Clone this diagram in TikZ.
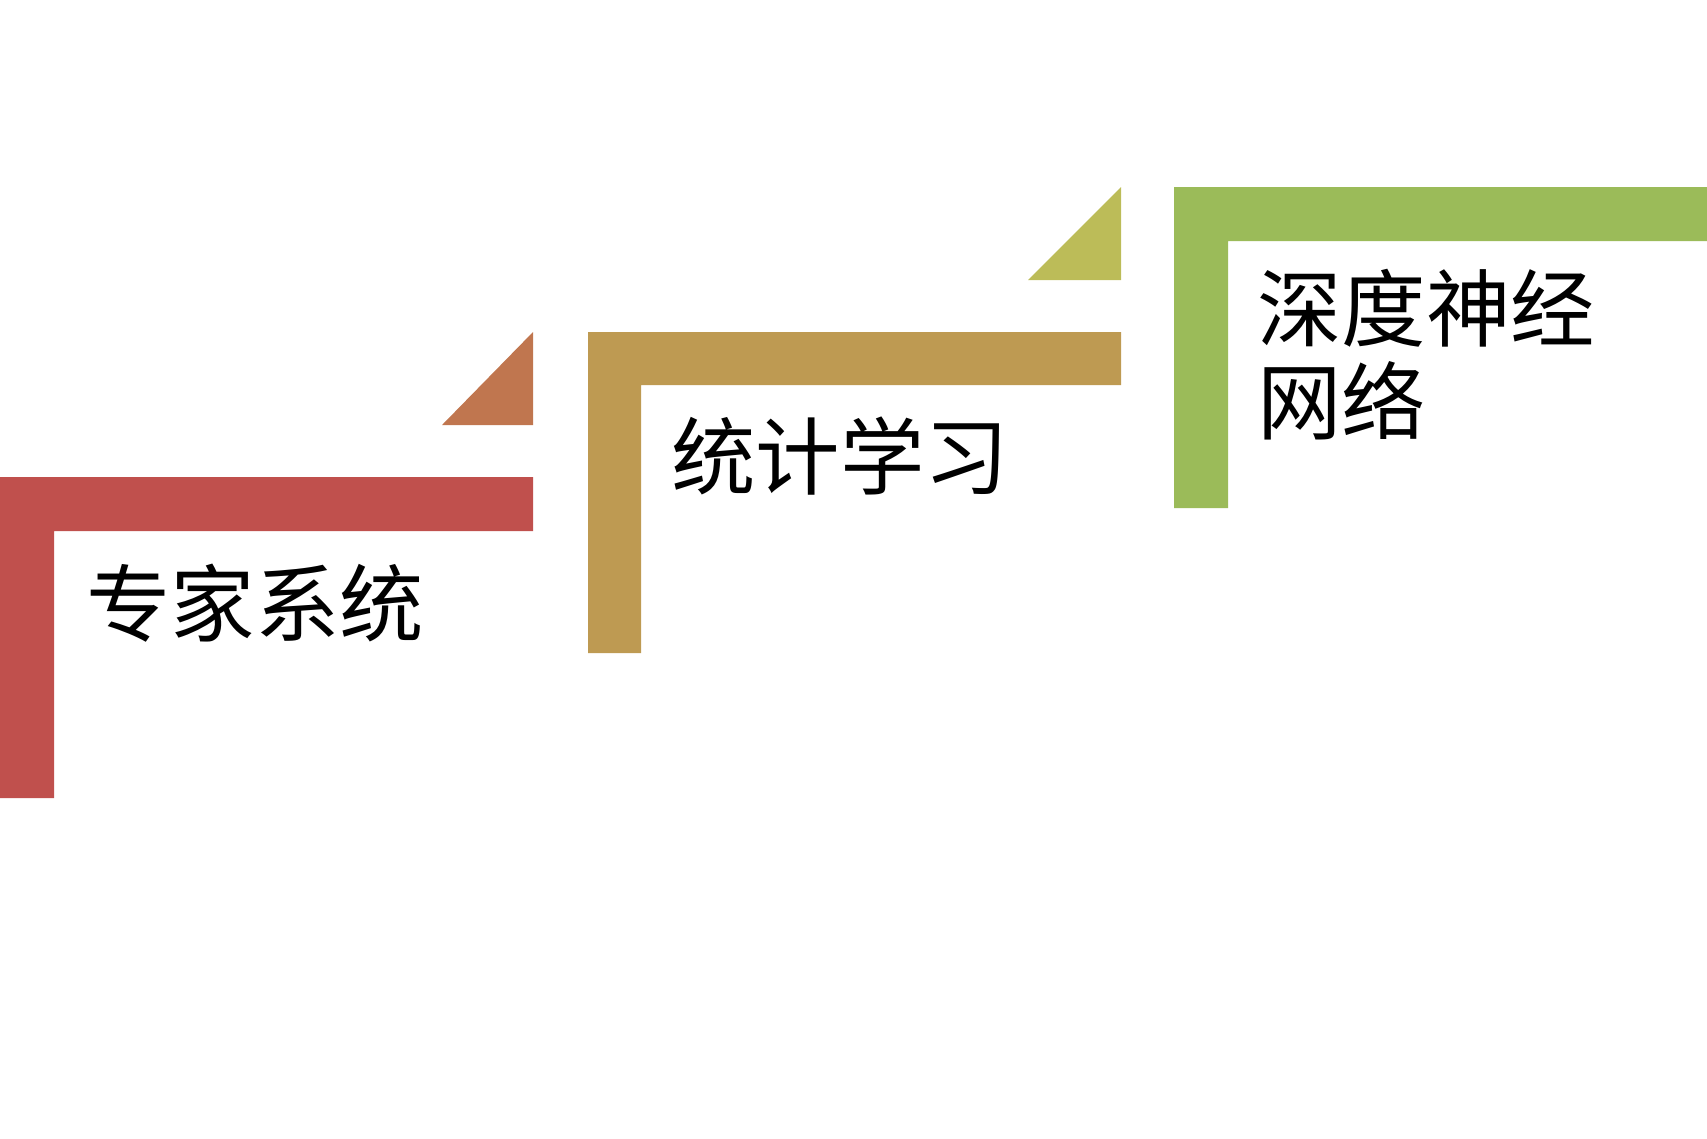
\documentclass[tikz,border=0pt]{standalone}
\usepackage{fontspec}
\newfontfamily\cjk{Noto Sans CJK SC}
\definecolor{stagered}{HTML}{C0504D}
\definecolor{triorange}{HTML}{C0764F}
\definecolor{stagegold}{HTML}{BE9A52}
\definecolor{trilime}{HTML}{BCBC58}
\definecolor{stagegreen}{HTML}{9BBB59}
\tikzset{stagetext/.style={inner sep=0pt,font=\cjk\fontsize{24}{26.5}\selectfont,align=left}}

\begin{document}
\begin{tikzpicture}[x=0.01cm,y=-0.01cm]
                \useasboundingbox (0,0) rectangle (1707,1138);

                % 专家系统
                \fill[stagered] (0,477) -- (533,477) -- (533,531) -- (54,531) -- (54,798) -- (0,798) -- cycle;
                \fill[triorange] (442,425) -- (533,332) -- (533,425) -- cycle;
                \node[stagetext] (expert) at (255,603) {专家系统};

                % 统计学习
                \fill[stagegold] (588,332) -- (1121,332) -- (1121,385) -- (641,385) -- (641,653) -- (588,653) -- cycle;
                \fill[trilime] (1028,280) -- (1121,187) -- (1121,280) -- cycle;
                \node[stagetext] (stat) at (840,456) {统计学习};

                % 深度神经网络
                \fill[stagegreen] (1174,187) -- (1707,187) -- (1707,241) -- (1228,241) -- (1228,508) -- (1174,508) -- cycle;
                \node[stagetext] (deep) at (1426,355) {深度神经\\网络};
            \end{tikzpicture}
\end{document}
